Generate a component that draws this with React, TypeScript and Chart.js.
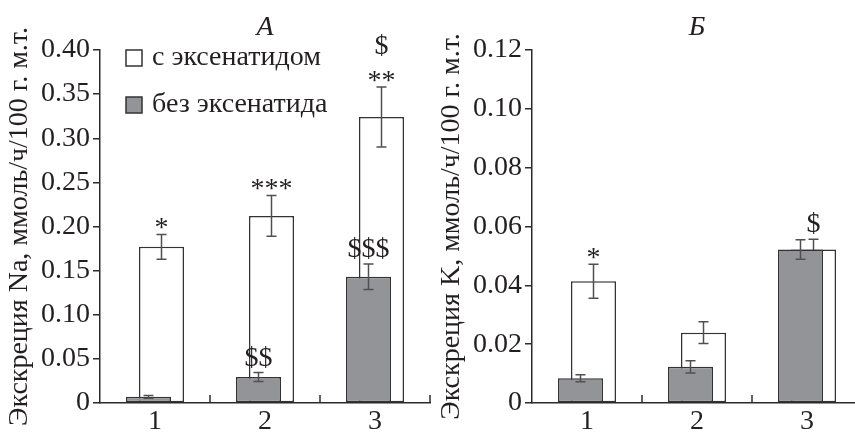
import React, { useEffect, useRef } from 'react';
import { Chart, registerables } from 'chart.js';

Chart.register(...registerables);

// ---- data ----
const categories = ['1', '2', '3'];
const legendLabels = ['с эксенатидом', 'без эксенатида'];
const panelTitles = ['А', 'Б'];
const naAxisTitle = 'Экскреция Na, ммоль/ч/100 г. м.т.';
const kAxisTitle = 'Экскреция K, ммоль/ч/100 г. м.т.';

const naWith = [0.177, 0.212, 0.324];
const naWithErr = [0.014, 0.023, 0.034];
const naWithout = [0.007, 0.0295, 0.143];
const naWithoutErr = [0.0015, 0.005, 0.0145];
const naWithMarks = [['*'], ['***'], ['**', '$']];
const naWithoutMarks = [[], ['$$'], ['$$$']];
const naTicks = ['0', '0.05', '0.10', '0.15', '0.20', '0.25', '0.30', '0.35', '0.40'];

const kWith = [0.0414, 0.0239, 0.0522];
const kWithErr = [0.0058, 0.0037, 0.0035];
const kWithout = [0.0084, 0.0123, 0.0522];
const kWithoutErr = [0.0012, 0.0021, 0.0033];
const kWithMarks = [['*'], [], ['$']];
const kWithoutMarks = [[], [], []];
const kTicks = ['0', '0.02', '0.04', '0.06', '0.08', '0.10', '0.12'];

// ---- styles ----
const FONT = '"Liberation Serif", "Times New Roman", serif';
const TEXT = '#231f20';
const AXIS = '#2b2b2b';
const GREY = '#939497';
const EDGE = '#333333';
const ERR = '#505050';

type PanelProps = {
  left: number;
  title: string;
  axisTitle: string;
  withVals: number[];
  withErr: number[];
  withoutVals: number[];
  withoutErr: number[];
  withMarks: string[][];
  withoutMarks: string[][];
  tickLabels: string[];
  max: number;
  step: number;
  showLegend: boolean;
};

function Panel(p: PanelProps) {
  const ref = useRef<HTMLCanvasElement>(null);
  useEffect(() => {
    const canvas = ref.current;
    if (!canvas) return;
    const errs = [p.withoutErr, p.withErr];
    const marks = [p.withoutMarks, p.withMarks];

    const extras = {
      id: 'extras',
      afterDatasetDraw(chart: any, args: any) {
        const idx = args.index;
        const meta = args.meta;
        const ys = chart.scales.y;
        const ctx = chart.ctx;
        ctx.save();
        ctx.strokeStyle = ERR;
        ctx.lineWidth = 1.5;
        meta.data.forEach((bar: any, i: number) => {
          const v = chart.data.datasets[idx].data[i] as number;
          const e = errs[idx][i];
          const x = bar.x;
          const yt = ys.getPixelForValue(v + e);
          const yb = ys.getPixelForValue(Math.max(0, v - e));
          ctx.beginPath();
          ctx.moveTo(x, yt);
          ctx.lineTo(x, yb);
          ctx.moveTo(x - 5, yt);
          ctx.lineTo(x + 5, yt);
          ctx.moveTo(x - 5, yb);
          ctx.lineTo(x + 5, yb);
          ctx.stroke();
        });
        ctx.restore();
      },
      afterDraw(chart: any) {
        const ctx = chart.ctx;
        const area = chart.chartArea;
        const ys = chart.scales.y;
        ctx.save();
        // inward x ticks at category boundaries
        ctx.strokeStyle = AXIS;
        ctx.lineWidth = 1.5;
        const n = categories.length;
        const cw = (area.right - area.left) / n;
        for (let i = 1; i <= n; i++) {
          const x = area.left + cw * i;
          ctx.beginPath();
          ctx.moveTo(x, area.bottom);
          ctx.lineTo(x, area.bottom - 8);
          ctx.stroke();
        }
        // significance marks
        ctx.fillStyle = TEXT;
        ctx.font = `28px ${FONT}`;
        ctx.textAlign = 'center';
        ctx.textBaseline = 'alphabetic';
        [0, 1].forEach((di) => {
          const meta = chart.getDatasetMeta(di);
          meta.data.forEach((bar: any, i: number) => {
            const v = chart.data.datasets[di].data[i] as number;
            const top = ys.getPixelForValue(v + errs[di][i]);
            marks[di][i].forEach((m: string, k: number) => {
              const isStar = m.indexOf('*') >= 0;
              const center = top - (isStar ? 13 : 16) - k * 26.5;
              const base = center + (isStar ? 14.8 : 9.2);
              ctx.fillText(m, bar.x, base);
            });
          });
        });
        // panel title
        ctx.font = `italic 28px ${FONT}`;
        ctx.fillText(p.title, (area.left + area.right) / 2, 35);
        // axis title
        ctx.save();
        ctx.font = `28px ${FONT}`;
        ctx.translate(20, (area.top + area.bottom) / 2);
        ctx.rotate(-Math.PI / 2);
        ctx.textBaseline = 'middle';
        ctx.fillText(p.axisTitle, 0, 0);
        ctx.restore();
        // legend
        if (p.showLegend) {
          const fills = ['#ffffff', GREY];
          const tops = [50, 97];
          const bases = [64.5, 112];
          ctx.lineWidth = 1.5;
          ctx.strokeStyle = EDGE;
          ctx.textAlign = 'left';
          ctx.font = `28px ${FONT}`;
          legendLabels.forEach((lab, i) => {
            ctx.fillStyle = fills[i];
            ctx.fillRect(126, tops[i], 16, 16);
            ctx.strokeRect(126, tops[i], 16, 16);
            ctx.fillStyle = TEXT;
            ctx.fillText(lab, 152, bases[i]);
          });
        }
        ctx.restore();
      },
    };

    const chart = new Chart(canvas, {
      type: 'bar',
      data: {
        labels: categories,
        datasets: [
          {
            label: legendLabels[1],
            data: p.withoutVals,
            backgroundColor: GREY,
            borderColor: EDGE,
            borderWidth: 1.5,
            borderSkipped: false,
            categoryPercentage: 26 / 110,
            barPercentage: 45 / 13,
          },
          {
            label: legendLabels[0],
            data: p.withVals,
            backgroundColor: '#ffffff',
            borderColor: EDGE,
            borderWidth: 1.5,
            borderSkipped: false,
            categoryPercentage: 26 / 110,
            barPercentage: 45 / 13,
          },
        ],
      },
      options: {
        animation: false,
        responsive: false,
        maintainAspectRatio: false,
        events: [],
        layout: { padding: { top: 50, right: 10, left: 0, bottom: 0 } },
        plugins: {
          legend: { display: false },
          tooltip: { enabled: false },
          title: { display: false },
        },
        scales: {
          x: {
            grid: { display: false, drawTicks: false },
            border: { display: true, color: AXIS, width: 1.5 },
            ticks: { font: { family: FONT, size: 28 }, color: TEXT, padding: 2 },
            afterFit: (s: any) => {
              s.height = 32;
            },
          },
          y: {
            min: 0,
            max: p.max,
            ticks: {
              stepSize: p.step,
              font: { family: FONT, size: 28 },
              color: TEXT,
              padding: 3,
              callback: (_v: any, i: number) => p.tickLabels[i],
            },
            grid: {
              drawOnChartArea: false,
              drawTicks: true,
              tickLength: 7,
              color: AXIS,
              lineWidth: 1.5,
            },
            border: { display: true, color: AXIS, width: 1.5 },
            afterFit: (s: any) => {
              s.width = 100;
            },
          },
        },
      },
      plugins: [extras],
    } as any);
    return () => chart.destroy();
  }, []);
  return (
    <canvas
      ref={ref}
      width={440}
      height={435}
      style={{ position: 'absolute', left: p.left, top: 0, width: 440, height: 435, display: 'block' }}
    />
  );
}

export default function App() {
  return (
    <div
      style={{
        position: 'fixed',
        left: 0,
        top: 0,
        width: 855,
        height: 435,
        overflow: 'hidden',
        background: '#ffffff',
      }}
    >
      <Panel
        left={0}
        title={panelTitles[0]}
        axisTitle={naAxisTitle}
        withVals={naWith}
        withErr={naWithErr}
        withoutVals={naWithout}
        withoutErr={naWithoutErr}
        withMarks={naWithMarks}
        withoutMarks={naWithoutMarks}
        tickLabels={naTicks}
        max={0.4}
        step={0.05}
        showLegend={true}
      />
      <Panel
        left={432}
        title={panelTitles[1]}
        axisTitle={kAxisTitle}
        withVals={kWith}
        withErr={kWithErr}
        withoutVals={kWithout}
        withoutErr={kWithoutErr}
        withMarks={kWithMarks}
        withoutMarks={kWithoutMarks}
        tickLabels={kTicks}
        max={0.12}
        step={0.02}
        showLegend={false}
      />
    </div>
  );
}
